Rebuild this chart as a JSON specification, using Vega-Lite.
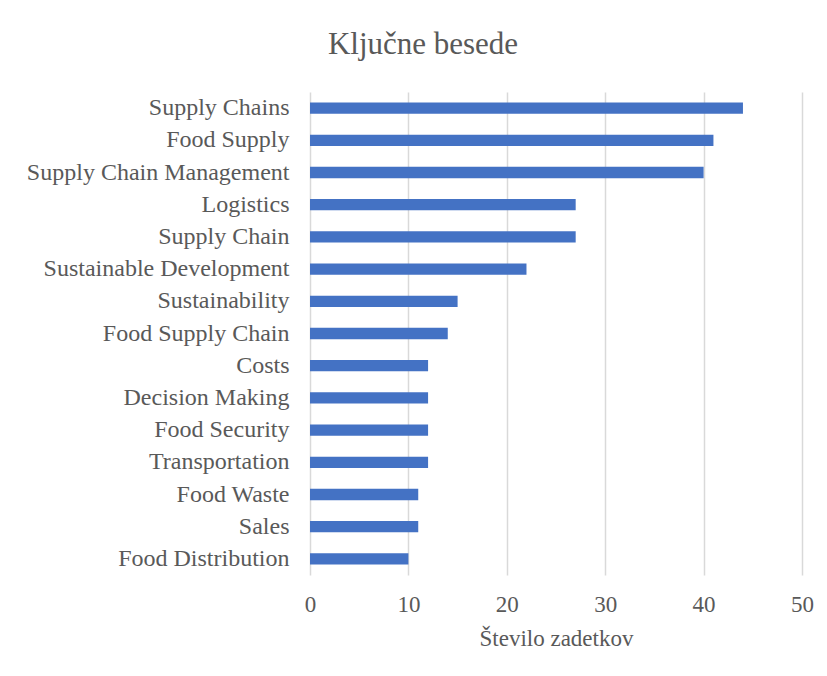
{
  "$schema": "https://vega.github.io/schema/vega-lite/v6.json",
  "width": 492,
  "height": 483,
  "autosize": {"type": "none"},
  "padding": {"left": 310, "top": 92, "right": 25, "bottom": 101},
  "background": "white",
  "title": {
    "text": "Ključne besede",
    "font": "Liberation Serif",
    "fontSize": 31,
    "fontWeight": "normal",
    "color": "#595959",
    "anchor": "middle",
    "baseline": "alphabetic",
    "offset": 7,
    "dx": -133
  },
  "data": {
    "values": [
      {"keyword": "Supply Chains", "count": 44},
      {"keyword": "Food Supply", "count": 41},
      {"keyword": "Supply Chain Management", "count": 40},
      {"keyword": "Logistics", "count": 27},
      {"keyword": "Supply Chain", "count": 27},
      {"keyword": "Sustainable Development", "count": 22},
      {"keyword": "Sustainability", "count": 15},
      {"keyword": "Food Supply Chain", "count": 14},
      {"keyword": "Costs", "count": 12},
      {"keyword": "Decision Making", "count": 12},
      {"keyword": "Food Security", "count": 12},
      {"keyword": "Transportation", "count": 12},
      {"keyword": "Food Waste", "count": 11},
      {"keyword": "Sales", "count": 11},
      {"keyword": "Food Distribution", "count": 10}
    ]
  },
  "mark": {"type": "bar", "color": "#4472C4"},
  "encoding": {
    "y": {
      "field": "keyword",
      "type": "nominal",
      "sort": null,
      "scale": {"paddingInner": 0.65, "paddingOuter": 0.325},
      "axis": {
        "title": null,
        "domain": false,
        "ticks": false,
        "grid": false,
        "labelFont": "Liberation Serif",
        "labelFontSize": 24,
        "labelColor": "#595959",
        "labelPadding": 21,
        "labelLimit": 400
      }
    },
    "x": {
      "field": "count",
      "type": "quantitative",
      "scale": {"domain": [0, 50], "nice": false},
      "axis": {
        "title": "Število zadetkov",
        "titleFont": "Liberation Serif",
        "titleFontSize": 23,
        "titleFontWeight": "normal",
        "titleColor": "#595959",
        "titlePadding": 11,
        "values": [0, 10, 20, 30, 40, 50],
        "domain": false,
        "ticks": false,
        "grid": true,
        "gridColor": "#D9D9D9",
        "gridWidth": 1.5,
        "labelFlush": false,
        "labelFont": "Liberation Serif",
        "labelFontSize": 23,
        "labelColor": "#595959",
        "labelPadding": 18
      }
    }
  },
  "config": {
    "view": {"stroke": null}
  }
}
